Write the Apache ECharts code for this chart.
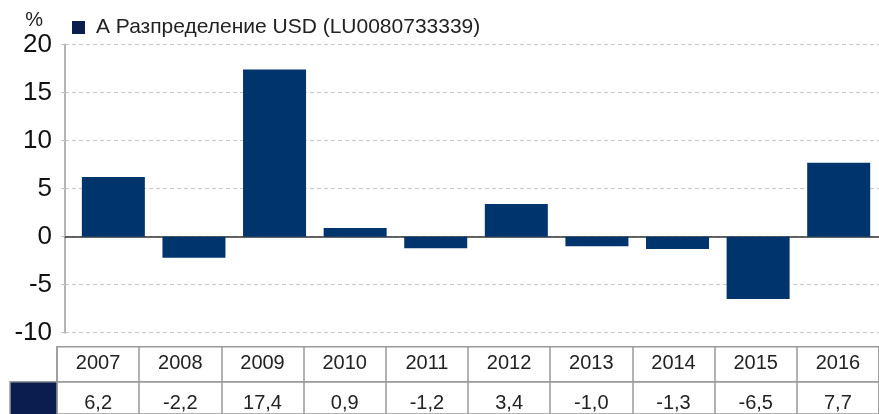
<!DOCTYPE html>
<html>
<head>
<meta charset="utf-8">
<script src="https://cdn.jsdelivr.net/npm/echarts@6/dist/echarts.min.js"></script>
<style>
  html, body { margin: 0; padding: 0; background: #fff; }
  #chart { width: 879px; height: 414px; }
</style>
</head>
<body>
<div id="chart"></div>
<script>
const years = ['2007', '2008', '2009', '2010', '2011', '2012', '2013', '2014', '2015', '2016'];
const returns = [6.2, -2.2, 17.4, 0.9, -1.2, 3.4, -1.0, -1.3, -6.5, 7.7];
const seriesName = 'A Разпределение USD (LU0080733339)';
const yTicks = { min: -10, max: 20, step: 5 };

const font = '"Liberation Sans", Arial, sans-serif';
const barColor = '#00346c';
const keyColor = '#0b1c4f';
const borderColor = '#9a9a9a';

const chart = echarts.init(document.getElementById('chart'), null, { renderer: 'canvas' });

const fmt = v => v.toFixed(1).replace('.', ',');

// table rows share the same cell layout
const tableRow = (gridIndex, labels, margin) => ({
  type: 'category',
  gridIndex,
  data: labels,
  boundaryGap: true,
  axisLine: { show: false },
  axisTick: { show: false },
  axisLabel: {
    inside: true,
    margin,
    verticalAlign: 'middle',
    interval: 0,
    color: '#222',
    fontSize: 20,
    fontFamily: font,
  },
  splitLine: { show: true, interval: 0, lineStyle: { color: borderColor, width: 1.5 } },
});

chart.setOption({
  animation: false,
  textStyle: { fontFamily: font },
  legend: {
    left: 67,
    top: 12,
    icon: 'rect',
    itemWidth: 13,
    itemHeight: 13,
    textStyle: { fontSize: 21, color: '#222', fontFamily: font, padding: [0, 0, 0, 6] },
    data: [{ name: seriesName, itemStyle: { color: keyColor } }],
  },
  grid: [
    { left: 65, right: 0, top: 44.5, height: 288.2 },
    { left: 57, right: 0, top: 346.7, height: 35, show: true, borderColor, borderWidth: 1.5 },
    { left: 57, right: 0, top: 381.7, height: 35, show: true, borderColor, borderWidth: 1.5 },
  ],
  xAxis: [
    {
      type: 'value',
      gridIndex: 0,
      min: -0.6,
      max: 9.5,
      axisLabel: { show: false },
      axisTick: { show: false },
      splitLine: { show: false },
      axisLine: { show: true, onZero: true, lineStyle: { color: '#333', width: 1.5 } },
    },
    tableRow(1, years, 18),
    tableRow(2, returns.map(fmt), 11),
  ],
  yAxis: [
    {
      type: 'value',
      gridIndex: 0,
      min: yTicks.min,
      max: yTicks.max,
      interval: yTicks.step,
      name: '%',
      nameLocation: 'end',
      nameGap: 14,
      nameTextStyle: { align: 'right', fontSize: 20, color: '#222', padding: [0, 22, 0, 0] },
      axisLine: { show: true, onZero: false, lineStyle: { color: '#b4b4b4', width: 2 } },
      axisTick: { show: true, length: 4, lineStyle: { color: '#c4c4c4' } },
      axisLabel: { color: '#111', fontSize: 26, margin: 13, fontFamily: font },
      splitLine: { show: true, lineStyle: { color: '#c8c8c8', type: [4, 3], width: 1 } },
    },
    { type: 'value', gridIndex: 1, show: false },
    { type: 'value', gridIndex: 2, show: false },
  ],
  graphic: [
    {
      type: 'rect',
      shape: { x: 10, y: 381.7, width: 47, height: 35 },
      style: { fill: keyColor, stroke: borderColor, lineWidth: 1.5 },
      z: 10,
    },
  ],
  series: [
    {
      name: seriesName,
      type: 'bar',
      xAxisIndex: 0,
      yAxisIndex: 0,
      barWidth: 63,
      itemStyle: { color: barColor },
      data: returns.map((v, i) => [i, v]),
    },
  ],
});
</script>
</body>
</html>
